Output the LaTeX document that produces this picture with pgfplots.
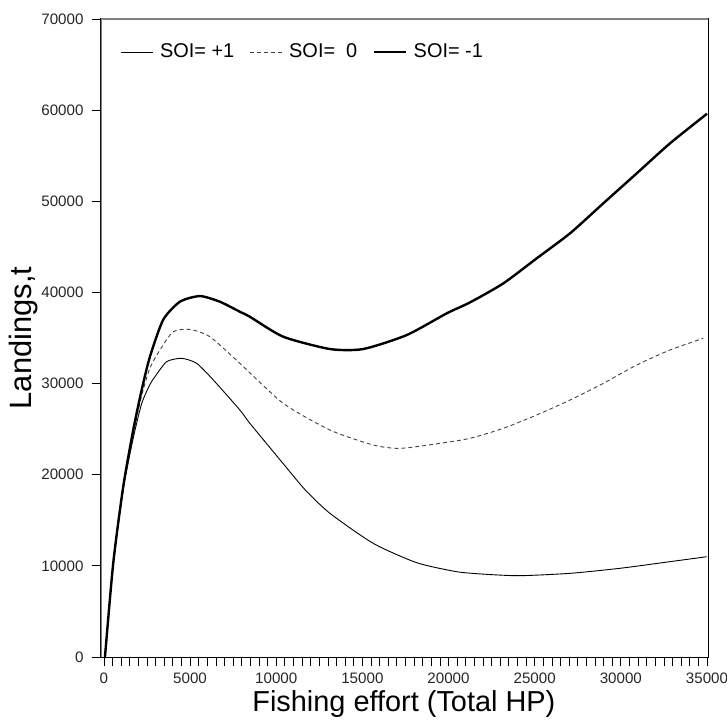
\documentclass[border=0pt]{standalone}
\usepackage{fontspec}
\setmainfont{Liberation Sans}
\usepackage{pgfplots}
\pgfplotsset{compat=1.18}
\begin{document}
\begin{tikzpicture}
\useasboundingbox (-101bp,-68bp) rectangle (626bp,657bp);
\begin{axis}[
  at={(0,0)}, anchor=south west,
  scale only axis, width=607bp, height=638bp,
  xmin=-170, xmax=35060, ymin=0, ymax=70000,
  xtick={0,5000,...,35000}, ytick={0,10000,...,70000},
  minor x tick num=9,
  tick align=outside, xtick pos=lower, ytick pos=left,
  major tick length=9bp, minor tick length=9bp,
  tick style={black, line width=0.8bp},
  /pgf/number format/1000 sep={},
  /pgf/number format/assume math mode=true,
  scaled ticks=false,
  tick label style={font=\fontsize{15.2}{18}\selectfont, text=black!85},
  xticklabel style={yshift=-3bp},
  yticklabel style={xshift=-5bp},
  axis line style={black, line width=1bp},
  xlabel={Fishing effort (Total HP)},
  ylabel={Landings,t},
  xlabel style={font=\fontsize{29}{33}\selectfont, at={(axis description cs:0.499,-0.0862)}, anchor=base},
  ylabel style={font=\fontsize{31}{35}\selectfont, at={(axis description cs:-0.1153,0.5)}, anchor=base},
  legend style={draw=none, fill=none, inner sep=0bp, nodes={inner sep=0bp},
    at={(axis description cs:0.0313,0.9613)}, anchor=north west,
    font=\fontsize{20}{24}\selectfont,
    /tikz/every odd column/.style={column sep=7bp},
    /tikz/every even column/.style={column sep=15bp}},
  legend columns=-1,
  legend image code/.code={\draw[#1] (0bp,-0.4bp) -- (32bp,-0.4bp);},
]
\addplot[black, line width=0.9bp, smooth, tension=0.4] coordinates {
(60,0) (540,10200) (1120,18400) (1700,24000) (2190,27800) (2670,29900) (2960,30750)
(3640,32400) (4510,32770) (5380,32220) (6350,30390) (7890,27100) (8470,25640)
(10410,21200) (11700,18300) (13120,15760) (15630,12470) (18150,10350) (20470,9360) (22210,9070)
(24140,8920) (27050,9180) (29950,9730) (32850,10460) (34980,11000)};
\addlegendentry{SOI= +1}
\addplot[black!75, line width=0.9bp, dash pattern=on 4bp off 3bp, smooth, tension=0.4] coordinates {
(60,0) (540,10250) (1120,18550) (1700,24400) (2190,28700) (2670,31700) (3250,33680)
(4020,35690) (4990,35940) (6150,35140) (7890,32220) (10410,27830) (13120,24900)
(15630,23260) (17180,22890) (19500,23440) (21240,23990) (23180,25090) (25110,26550)
(27050,28190) (28980,30020) (30920,32030) (32850,33680) (34780,34960)};
\addlegendentry{SOI=\ \ 0}
\addplot[black, line width=2.4bp, smooth, tension=0.4] coordinates {
(60,0) (540,10300) (1120,18700) (1700,24900) (2190,29300) (2670,32950) (3440,37000)
(4410,38980) (5570,39600) (6730,38980) (7890,37880) (8470,37330) (10410,35140)
(13120,33790) (15050,33790) (17570,35320) (19890,37700) (21240,38900) (23180,40990)
(25110,43730) (27050,46480) (28980,49770) (30920,53060) (32850,56350) (35000,59600)};
\addlegendentry{SOI= -1}
\draw[gray, line width=2bp] (rel axis cs:0,0) -- (rel axis cs:0,1);
\draw[gray, line width=1.5bp] (rel axis cs:0,1) -- (rel axis cs:1,1);
\end{axis}
\end{tikzpicture}
\end{document}
